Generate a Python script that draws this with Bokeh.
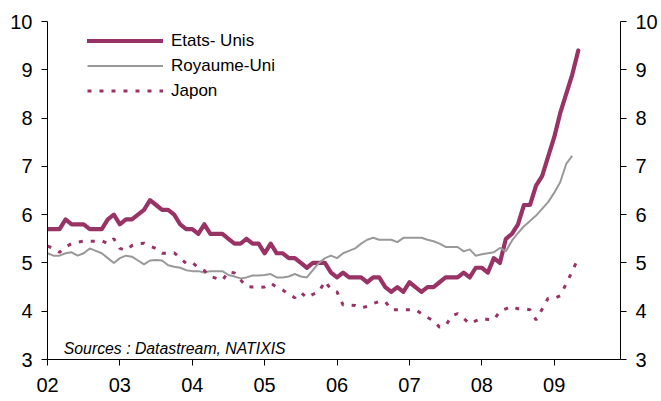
from bokeh.plotting import figure
from bokeh.models import (Range1d, LinearAxis, FixedTicker, Legend, LegendItem, Label)
from bokeh.embed import file_html
from bokeh.resources import INLINE

# ---- data (monthly, starting Jan 2002) ----
start_year = 2002
etats_unis = [
    5.7, 5.7, 5.7, 5.9, 5.8, 5.8, 5.8, 5.7, 5.7, 5.7, 5.9, 6.0,
    5.8, 5.9, 5.9, 6.0, 6.1, 6.3, 6.2, 6.1, 6.1, 6.0, 5.8, 5.7,
    5.7, 5.6, 5.8, 5.6, 5.6, 5.6, 5.5, 5.4, 5.4, 5.5, 5.4, 5.4,
    5.2, 5.4, 5.2, 5.2, 5.1, 5.1, 5.0, 4.9, 5.0, 5.0, 5.0, 4.8,
    4.7, 4.8, 4.7, 4.7, 4.7, 4.6, 4.7, 4.7, 4.5, 4.4, 4.5, 4.4,
    4.6, 4.5, 4.4, 4.5, 4.5, 4.6, 4.7, 4.7, 4.7, 4.8, 4.7, 4.9,
    4.9, 4.8, 5.1, 5.0, 5.5, 5.6, 5.8, 6.2, 6.2, 6.6, 6.8, 7.2,
    7.6, 8.1, 8.5, 8.9, 9.4,
]
royaume_uni = [
    5.2, 5.15, 5.15, 5.2, 5.22, 5.15, 5.2, 5.3, 5.25, 5.2, 5.1, 5.0,
    5.1, 5.15, 5.13, 5.05, 4.97, 5.05, 5.06, 5.05, 4.95, 4.92, 4.9, 4.85,
    4.83, 4.83, 4.8, 4.83, 4.83, 4.83, 4.75, 4.72, 4.68, 4.7, 4.74, 4.74,
    4.75, 4.77, 4.7, 4.7, 4.72, 4.77, 4.72, 4.7, 4.85, 5.0, 5.1, 5.15,
    5.1, 5.2, 5.25, 5.3, 5.4, 5.48, 5.52, 5.48, 5.48, 5.48, 5.43, 5.52,
    5.52, 5.52, 5.52, 5.48, 5.45, 5.4, 5.33, 5.33, 5.33, 5.24, 5.28, 5.15,
    5.18, 5.2, 5.22, 5.31, 5.24, 5.46, 5.62, 5.76, 5.87, 5.98, 6.12, 6.26,
    6.45, 6.67, 7.05, 7.22,
]
japon = [
    5.35, 5.3, 5.22, 5.33, 5.4, 5.43, 5.45, 5.45, 5.45, 5.46, 5.4, 5.5,
    5.3, 5.26, 5.36, 5.4, 5.41, 5.35, 5.3, 5.2, 5.2, 5.21, 5.1, 4.99,
    5.01, 4.9, 4.84, 4.72, 4.68, 4.64, 4.82, 4.79, 4.65, 4.51, 4.5, 4.49,
    4.5, 4.58, 4.5, 4.44, 4.35, 4.28, 4.39, 4.28, 4.35, 4.4, 4.62, 4.45,
    4.4, 4.13, 4.13, 4.12, 4.07, 4.1, 4.16, 4.2, 4.2, 4.03, 4.03, 4.03,
    4.03, 4.03, 3.95, 3.87, 3.8, 3.67, 3.7, 3.9, 3.95, 3.85, 3.74, 3.8,
    3.85, 3.83, 3.82, 4.0, 4.05, 4.1, 4.05, 4.05, 4.03, 3.82, 4.04, 4.27,
    4.27, 4.32, 4.57, 4.83, 5.1,
]
year_ticks = [2002, 2003, 2004, 2005, 2006, 2007, 2008, 2009]
year_labels = ["02", "03", "04", "05", "06", "07", "08", "09"]
y_ticks = [3, 4, 5, 6, 7, 8, 9, 10]
source_text = "Sources : Datastream, NATIXIS"


def months(series):
    return [start_year + i / 12 for i in range(len(series))]


FONT = "Liberation Sans"
PLUM = "#993366"

p = figure(width=660, height=400, output_backend="svg", toolbar_location=None,
           x_range=Range1d(2002, 2002 + 95 / 12), y_range=Range1d(3, 10),
           min_border_left=47, min_border_right=39, min_border_top=21,
           min_border_bottom=41)
p.outline_line_color = None
p.xgrid.visible = False
p.ygrid.visible = False
p.background_fill_color = "white"
p.border_fill_color = "white"

us = p.line(months(etats_unis), etats_unis, line_color=PLUM, line_width=4.2,
            line_join="round", line_cap="round")
uk = p.line(months(royaume_uni), royaume_uni, line_color="#999999", line_width=2)
jp = p.line(months(japon), japon, line_color=PLUM, line_width=3, line_dash="4 8")

right = LinearAxis()
p.add_layout(right, "right")


def style_axis(ax, standoff):
    ax.axis_line_color = "black"
    ax.axis_line_width = 1
    ax.major_tick_line_color = "black"
    ax.major_tick_out = 6
    ax.major_tick_in = 0
    ax.minor_tick_line_color = None
    ax.major_label_text_font = FONT
    ax.major_label_text_font_size = "20px"
    ax.major_label_text_color = "black"
    ax.major_label_standoff = standoff


p.yaxis[0].ticker = FixedTicker(ticks=y_ticks)
right.ticker = FixedTicker(ticks=y_ticks)
style_axis(p.yaxis[0], 9)
style_axis(right, 9)

xa = p.xaxis[0]
xa.ticker = FixedTicker(ticks=year_ticks)
xa.major_label_overrides = {t: lab for t, lab in zip(year_ticks, year_labels)}
style_axis(xa, 12)

legend = Legend(items=[LegendItem(label="Etats- Unis", renderers=[us]),
                       LegendItem(label="Royaume-Uni", renderers=[uk]),
                       LegendItem(label="Japon", renderers=[jp])],
                location=(40, 256), orientation="vertical",
                glyph_width=76, glyph_height=25, label_height=25, spacing=0,
                padding=0, margin=0, label_standoff=8,
                label_text_font=FONT, label_text_font_size="17px",
                label_text_color="black",
                border_line_color=None, background_fill_alpha=0)
p.add_layout(legend, "center")

src = Label(x=16.3, y=11.3, x_units="screen", y_units="screen", text=source_text,
            text_font=FONT, text_font_style="italic", text_font_size="15.8px",
            text_color="black", text_baseline="alphabetic")
p.add_layout(src)

open("out.html", "w").write(file_html(p, INLINE))
